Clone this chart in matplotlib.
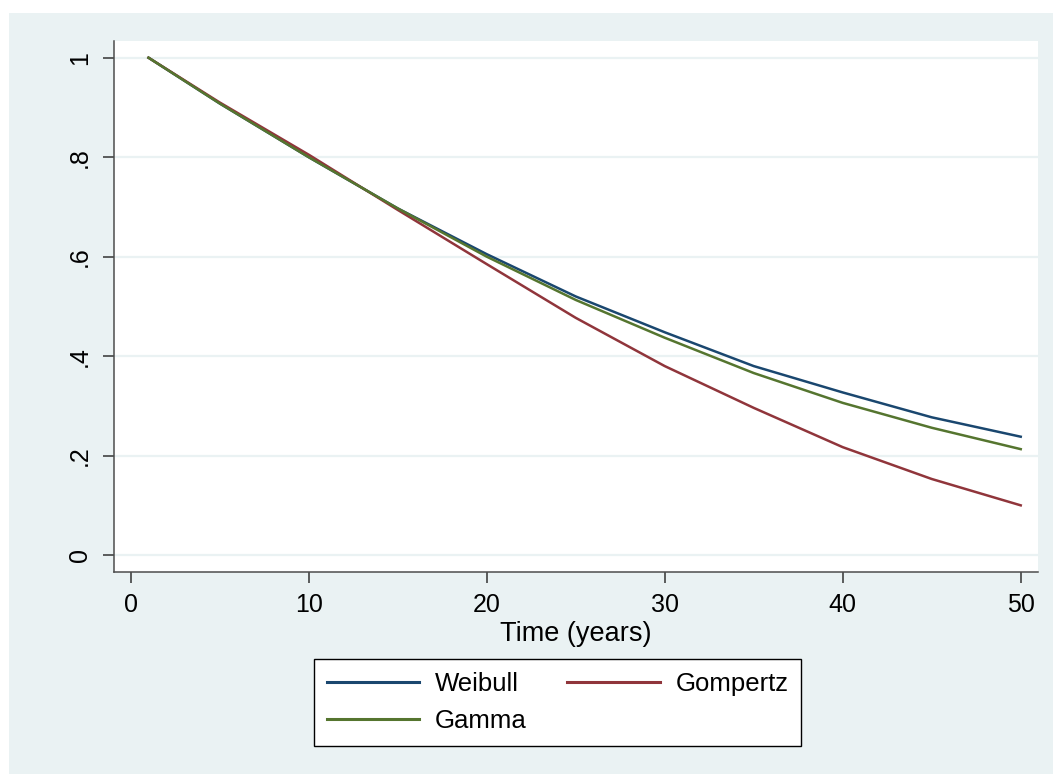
import matplotlib
matplotlib.use("Agg")
import matplotlib.pyplot as plt
from matplotlib.patches import Rectangle

# ---- data ----
time_years = [1, 5, 10, 15, 20, 25, 30, 35, 40, 45, 50]
weibull = [1.000, 0.908, 0.800, 0.697, 0.605, 0.520, 0.448, 0.380, 0.327, 0.277, 0.238]
gompertz = [1.000, 0.910, 0.805, 0.694, 0.585, 0.477, 0.380, 0.296, 0.217, 0.153, 0.100]
gamma = [1.000, 0.908, 0.800, 0.697, 0.600, 0.513, 0.437, 0.366, 0.306, 0.256, 0.213]

x_ticks = [0, 10, 20, 30, 40, 50]
y_ticks = [0, 0.2, 0.4, 0.6, 0.8, 1.0]
y_tick_labels = ["0", ".2", ".4", ".6", ".8", "1"]
x_label = "Time (years)"
series_names = ["Weibull", "Gompertz", "Gamma"]

# ---- style ----
BG = "#EAF2F3"
NAVY = "#1A476F"
MAROON = "#90353B"
GREEN = "#55752F"
plt.rcParams["font.family"] = ["Liberation Sans", "DejaVu Sans"]
FS_TICK = 18
FS_LABEL = 19.5
FS_LEG = 18.5

W, H = 1053, 774
fig = plt.figure(figsize=(W / 100, H / 100), dpi=100)
fig.patch.set_facecolor("white")
fig.patches.append(Rectangle((9 / W, 0), 1 - 9 / W, 1 - 13 / H,
                             transform=fig.transFigure, facecolor=BG,
                             edgecolor="none", zorder=-10))

left, right, top, bottom = 114, 1038, 41, 572
ax = fig.add_axes([left / W, 1 - bottom / H, (right - left) / W, (bottom - top) / H])
ax.set_facecolor("white")

ax.plot(time_years, weibull, color=NAVY, lw=1.8, label=series_names[0], zorder=3)
ax.plot(time_years, gompertz, color=MAROON, lw=1.8, label=series_names[1], zorder=3)
ax.plot(time_years, gamma, color=GREEN, lw=1.8, label=series_names[2], zorder=3)

ax.set_xlim(-0.94, 50.97)
ax.set_ylim(-0.034, 1.0336)
ax.set_xticks(x_ticks)
ax.set_yticks(y_ticks)
ax.set_yticklabels(y_tick_labels, rotation=90, va="center")
ax.tick_params(axis="both", labelsize=FS_TICK, colors="#333333", labelcolor="black",
               length=8, width=1.1, direction="out")
ax.tick_params(axis="x", pad=7)
ax.tick_params(axis="y", pad=8)
ax.yaxis.grid(True, color=BG, lw=1.6, zorder=0)
ax.set_axisbelow(True)
for s in ["top", "right"]:
    ax.spines[s].set_visible(False)
for s in ["left", "bottom"]:
    ax.spines[s].set_color("#4d4d4d")
    ax.spines[s].set_linewidth(1.1)

ax.set_xlabel(x_label, fontsize=FS_LABEL, labelpad=3)

h, l = ax.get_legend_handles_labels()
order = [0, 2, 1]  # column-major layout: Weibull, Gamma | Gompertz
leg = fig.legend([h[i] for i in order], [l[i] for i in order], ncol=2,
                 loc="center", bbox_to_anchor=((317 + 798) / 2 / W, 1 - (659 + 746) / 2 / H),
                 fontsize=FS_LEG, frameon=True, fancybox=False, edgecolor="black",
                 facecolor="white", framealpha=1, handlelength=3.6,
                 handletextpad=0.6, columnspacing=1.6, labelspacing=0.5,
                 borderpad=0.5)
leg.get_frame().set_linewidth(1.0)
for ln in leg.get_lines():
    ln.set_linewidth(2.2)

fig.savefig("out.png", dpi=100, facecolor=fig.get_facecolor())
